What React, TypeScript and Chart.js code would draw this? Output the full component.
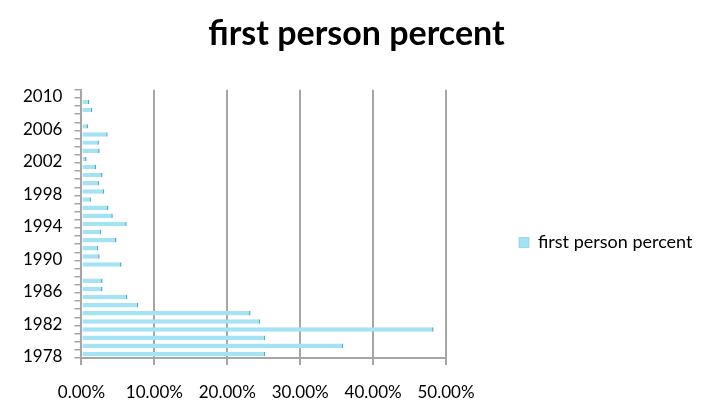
import React, { useEffect, useRef } from "react";
import { Chart, registerables } from "chart.js";

Chart.register(...registerables);

const years: string[] = [
  "1978","1979","1980","1981","1982","1983","1984","1985","1986","1987","1988",
  "1989","1990","1991","1992","1993","1994","1995","1996","1997","1998","1999",
  "2000","2001","2002","2003","2004","2005","2006","2007","2008","2009","2010",
];

const firstPersonPercent: number[] = [
  25.2, 35.9, 25.2, 48.3, 24.5, 23.2, 7.8, 6.3, 2.9, 2.9, 0.1,
  5.5, 2.5, 2.3, 4.8, 2.7, 6.2, 4.3, 3.7, 1.3, 3.1, 2.4,
  2.9, 2.0, 0.7, 2.5, 2.4, 3.6, 0.9, 0.1, 1.5, 1.1, 0.1,
];

const xTickValues: number[] = [0, 10, 20, 30, 40, 50];
const labeledYears: string[] = ["1978","1982","1986","1990","1994","1998","2002","2006","2010"];

const FONT = "Lato, 'Open Sans', sans-serif";

export default function App() {
  const ref = useRef<HTMLCanvasElement | null>(null);
  useEffect(() => {
    if (!ref.current) return;
    const chart = new Chart(ref.current, {
      type: "bar",
      data: {
        labels: years,
        datasets: [
          {
            label: "first person percent",
            data: firstPersonPercent,
            backgroundColor: "#a3e3f4",
            borderColor: "#5aa7bd",
            borderWidth: { top: 0, bottom: 0, left: 0, right: 1.5 },
            borderSkipped: false,
            barPercentage: 0.55,
            categoryPercentage: 1,
          },
        ],
      },
      options: {
        indexAxis: "y",
        responsive: false,
        animation: false,
        layout: { padding: { left: 11, right: 0, top: 0, bottom: 0 } },
        plugins: {
          title: {
            display: true,
            text: "first person percent",
            color: "#000",
            font: { family: FONT, size: 34, weight: "bold" },
            padding: { top: 14, bottom: 35 },
          },
          legend: {
            display: true,
            position: "right",
            maxWidth: 256,
            title: { display: true, text: " ", font: { size: 10 }, padding: 31 },
            labels: {
              color: "#000",
              font: { family: FONT, size: 18 },
              boxWidth: 10,
              boxHeight: 10,
              padding: 73,
            },
          },
          tooltip: { enabled: false },
        },
        scales: {
          x: {
            min: 0,
            max: 50,
            afterBuildTicks: (axis: any) => {
              axis.ticks = xTickValues.map((v) => ({ value: v }));
            },
            afterFit: (scale: any) => {
              scale.height = 53;
            },
            ticks: {
              color: "#000",
              font: { family: FONT, size: 17 },
              padding: 17,
              maxRotation: 0,
              callback: (v: any) => Number(v).toFixed(2) + "%",
            },
            grid: { color: "#a6a6a6", lineWidth: 2, tickLength: 7, drawOnChartArea: true },
            border: { color: "#a6a6a6", width: 2 },
          },
          y: {
            reverse: true,
            ticks: {
              color: "#000",
              font: { family: FONT, size: 17 },
              autoSkip: false,
              padding: 12,
              labelOffset: 3,
              callback: function (this: any, v: any) {
                const lbl = years[v as number];
                return labeledYears.includes(lbl) ? lbl : "";
              },
            },
            grid: { color: "#a6a6a6", lineWidth: 1.5, tickLength: 7, drawOnChartArea: false },
            border: { color: "#a6a6a6", width: 2 },
          },
        },
      },
    });
    return () => chart.destroy();
  }, []);
  return (
    <div style={{ position: "fixed", left: 0, top: 0, width: 702, height: 411, background: "#fff" }}>
      <canvas ref={ref} width={702} height={411} />
    </div>
  );
}
